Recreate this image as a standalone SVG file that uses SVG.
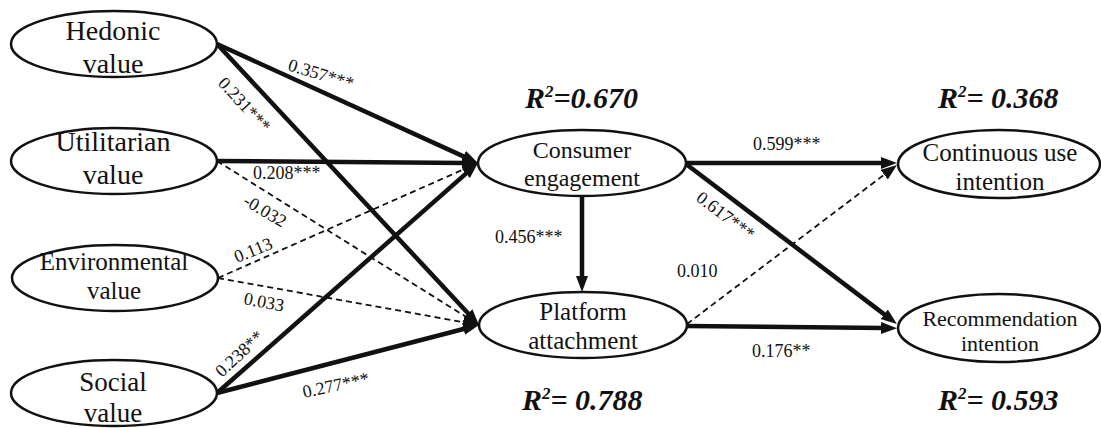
<svg xmlns="http://www.w3.org/2000/svg" width="1101" height="428" viewBox="0 0 1101 428">
<style>
.node ellipse{fill:#fff;stroke:#111;stroke-width:2.5}
.nt{fill:#111;text-anchor:middle}
.solid{stroke:#111;stroke-width:4.5;fill:none;marker-end:url(#ah)}
.dash{stroke:#111;stroke-width:1.8;fill:none;stroke-dasharray:6 4;marker-end:url(#ah)}
.lbl{font-size:18px;fill:#111}
.r2{font-size:30px;font-weight:bold;font-style:italic;fill:#111}
</style>
<defs>
<marker id="ah" markerUnits="userSpaceOnUse" markerWidth="17" markerHeight="13" refX="3" refY="6" orient="auto">
<path d="M0,0 L16,6 L0,12 z" fill="#111"/>
</marker>
</defs>
<rect width="1101" height="428" fill="#fff"/>
<g id="connectors">
<line class="solid" x1="217" y1="44" x2="466.2" y2="157.6"/>
<line class="solid" x1="217" y1="44" x2="470.1" y2="315.5"/>
<line class="solid" x1="217" y1="161" x2="465" y2="162.9"/>
<line class="dash" x1="217" y1="161" x2="468" y2="318.1"/>
<line class="dash" x1="218" y1="278" x2="466.1" y2="168.3"/>
<line class="dash" x1="218" y1="278" x2="466.2" y2="322.7"/>
<line class="solid" x1="217" y1="393" x2="468.2" y2="171.6"/>
<line class="solid" x1="217" y1="393" x2="466.4" y2="328.3"/>
<line class="solid" x1="582" y1="196" x2="582" y2="279"/>
<line class="solid" x1="686" y1="163" x2="884" y2="163"/>
<line class="solid" x1="686" y1="164" x2="886.6" y2="316.1"/>
<line class="dash" x1="687" y1="324" x2="886.6" y2="172.9"/>
<line class="solid" x1="687" y1="326" x2="884" y2="328"/>
</g>
<g id="labels" font-family="Liberation Serif, Tinos, DejaVu Serif, serif">
<text class="lbl" transform="translate(287,70) rotate(17)">0.357***</text>
<text class="lbl" transform="translate(217,84) rotate(47)">0.231***</text>
<text class="lbl" x="253" y="179">0.208***</text>
<text class="lbl" transform="translate(242,204) rotate(31)">-0.032</text>
<text class="lbl" transform="translate(237,263) rotate(-22)">0.113</text>
<text class="lbl" transform="translate(243,304) rotate(11)">0.033</text>
<text class="lbl" transform="translate(222,378) rotate(-43)">0.238**</text>
<text class="lbl" transform="translate(304,398) rotate(-12)">0.277***</text>
<text class="lbl" x="495" y="243">0.456***</text>
<text class="lbl" transform="translate(695,200) rotate(37)">0.617***</text>
<text class="lbl" x="753" y="150">0.599***</text>
<text class="lbl" x="677" y="277">0.010</text>
<text class="lbl" x="752" y="357">0.176**</text>
<text class="r2" x="525" y="108">R<tspan font-size="17" dy="-11">2</tspan><tspan dy="11">=0.670</tspan></text>
<text class="r2" x="938" y="108">R<tspan font-size="17" dy="-11">2</tspan><tspan dy="11">= 0.368</tspan></text>
<text class="r2" x="522" y="410">R<tspan font-size="17" dy="-11">2</tspan><tspan dy="11">= 0.788</tspan></text>
<text class="r2" x="938" y="410">R<tspan font-size="17" dy="-11">2</tspan><tspan dy="11">= 0.593</tspan></text>
</g>
<g id="nodes" font-family="Liberation Serif, Tinos, DejaVu Serif, serif">
<g id="hedonic" class="node">
<ellipse cx="114" cy="44" rx="103" ry="33"/>
<text class="nt" font-size="28" x="113" y="40">Hedonic</text>
<text class="nt" font-size="28" x="113" y="73">value</text>
</g>
<g id="utilitarian" class="node">
<ellipse cx="114" cy="161" rx="103" ry="33"/>
<text class="nt" font-size="28" x="113" y="151">Utilitarian</text>
<text class="nt" font-size="28" x="113" y="184">value</text>
</g>
<g id="environmental" class="node">
<ellipse cx="115" cy="278" rx="103" ry="33"/>
<text class="nt" font-size="25" x="114" y="270">Environmental</text>
<text class="nt" font-size="25" x="114" y="299">value</text>
</g>
<g id="social" class="node">
<ellipse cx="114" cy="393" rx="103" ry="33"/>
<text class="nt" font-size="27" x="113" y="391">Social</text>
<text class="nt" font-size="27" x="113" y="422">value</text>
</g>
<g id="consumer-engagement" class="node">
<ellipse cx="582" cy="163" rx="104" ry="33"/>
<text class="nt" font-size="24" x="582" y="158">Consumer</text>
<text class="nt" font-size="24" x="582" y="186">engagement</text>
</g>
<g id="platform-attachment" class="node">
<ellipse cx="583" cy="325" rx="104" ry="33"/>
<text class="nt" font-size="25" x="583" y="320">Platform</text>
<text class="nt" font-size="25" x="583" y="349">attachment</text>
</g>
<g id="continuous-use-intention" class="node">
<ellipse cx="999" cy="164" rx="101" ry="34"/>
<text class="nt" font-size="25" x="1000" y="161">Continuous use</text>
<text class="nt" font-size="25" x="1000" y="190">intention</text>
</g>
<g id="recommendation-intention" class="node">
<ellipse cx="999" cy="328" rx="101" ry="34"/>
<text class="nt" font-size="22" x="1000" y="326">Recommendation</text>
<text class="nt" font-size="22" x="1000" y="351">intention</text>
</g>
</g>
</svg>
